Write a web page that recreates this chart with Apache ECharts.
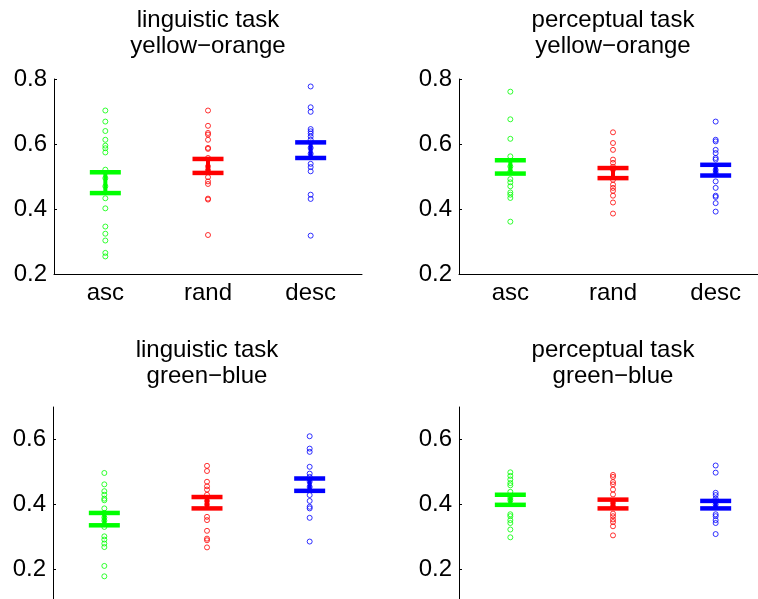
<!DOCTYPE html>
<html>
<head>
<meta charset="utf-8">
<script src="https://cdn.jsdelivr.net/npm/echarts@6/dist/echarts.min.js"></script>
<style>
  html, body { margin: 0; padding: 0; background: #fff; }
  #chart { width: 758px; height: 599px; }
</style>
</head>
<body>
<div id="chart"></div>
<script>
const categories = ['asc', 'rand', 'desc'];
const groupColors = ['#00ff00', '#ff0000', '#0000ff'];
const FONT = '"Liberation Sans", Arial, Helvetica, sans-serif';

// linguistic task, yellow-orange
const lingYoAsc = [0.703, 0.669, 0.640, 0.613, 0.595, 0.587, 0.574, 0.521, 0.495, 0.470, 0.433, 0.402, 0.346, 0.324, 0.303, 0.265, 0.254];
const lingYoRand = [0.703, 0.656, 0.634, 0.629, 0.613, 0.588, 0.585, 0.557, 0.531, 0.520, 0.498, 0.485, 0.477, 0.432, 0.429, 0.320];
const lingYoDesc = [0.777, 0.713, 0.699, 0.646, 0.639, 0.632, 0.623, 0.613, 0.588, 0.570, 0.539, 0.529, 0.516, 0.444, 0.431, 0.318];
const lingYoLow = [0.449, 0.511, 0.557];
const lingYoHigh = [0.513, 0.554, 0.605];

// perceptual task, yellow-orange
const percYoAsc = [0.761, 0.676, 0.616, 0.562, 0.531, 0.515, 0.492, 0.482, 0.470, 0.451, 0.444, 0.434, 0.361];
const percYoRand = [0.636, 0.603, 0.582, 0.552, 0.542, 0.530, 0.521, 0.490, 0.475, 0.465, 0.456, 0.441, 0.420, 0.386];
const percYoDesc = [0.669, 0.613, 0.608, 0.582, 0.572, 0.557, 0.552, 0.520, 0.511, 0.485, 0.465, 0.441, 0.437, 0.418, 0.392];
const percYoLow = [0.509, 0.495, 0.503];
const percYoHigh = [0.550, 0.526, 0.536];

// linguistic task, green-blue
const lingGbAsc = [0.497, 0.462, 0.441, 0.430, 0.418, 0.413, 0.388, 0.374, 0.360, 0.350, 0.331, 0.302, 0.292, 0.280, 0.269, 0.211, 0.179];
const lingGbRand = [0.519, 0.503, 0.470, 0.456, 0.446, 0.430, 0.411, 0.400, 0.362, 0.352, 0.319, 0.295, 0.290, 0.268];
const lingGbDesc = [0.610, 0.572, 0.562, 0.516, 0.495, 0.485, 0.470, 0.454, 0.429, 0.411, 0.393, 0.388, 0.359, 0.286];
const lingGbLow = [0.336, 0.388, 0.442];
const lingGbHigh = [0.374, 0.423, 0.480];

// perceptual task, green-blue
const percGbAsc = [0.499, 0.488, 0.477, 0.466, 0.459, 0.439, 0.420, 0.413, 0.370, 0.364, 0.352, 0.343, 0.323, 0.299];
const percGbRand = [0.491, 0.485, 0.469, 0.462, 0.446, 0.431, 0.405, 0.395, 0.372, 0.364, 0.354, 0.346, 0.333, 0.305];
const percGbDesc = [0.520, 0.498, 0.436, 0.429, 0.418, 0.411, 0.400, 0.370, 0.364, 0.352, 0.343, 0.309];
const percGbLow = [0.399, 0.388, 0.388];
const percGbHigh = [0.430, 0.415, 0.411];

const topTicks = [0.2, 0.4, 0.6, 0.8];
const bottomTicks = [0.2, 0.4, 0.6];

const panels = [
  { title: 'linguistic task\nyellow\u2212orange', groups: [lingYoAsc, lingYoRand, lingYoDesc], low: lingYoLow, high: lingYoHigh,
    left: 54, top: 79, min: 0.2, max: 0.8, ticks: topTicks },
  { title: 'perceptual task\nyellow\u2212orange', groups: [percYoAsc, percYoRand, percYoDesc], low: percYoLow, high: percYoHigh,
    left: 459, top: 79, min: 0.2, max: 0.8, ticks: topTicks },
  { title: 'linguistic task\ngreen\u2212blue', groups: [lingGbAsc, lingGbRand, lingGbDesc], low: lingGbLow, high: lingGbHigh,
    left: 53, top: 407, min: 0.1, max: 0.7, ticks: bottomTicks },
  { title: 'perceptual task\ngreen\u2212blue', groups: [percGbAsc, percGbRand, percGbDesc], low: percGbLow, high: percGbHigh,
    left: 459, top: 407, min: 0.1, max: 0.7, ticks: bottomTicks }
];

const PLOT_W = 308;
const PLOT_H = 195;

function errorBarItem(params, api) {
  const idx = api.value(0);
  const lo = api.coord([idx, api.value(1)]);
  const hi = api.coord([idx, api.value(2)]);
  const c = groupColors[idx];
  const hw = 15.5;
  return {
    type: 'group',
    children: [
      { type: 'line', shape: { x1: lo[0], y1: lo[1], x2: hi[0], y2: hi[1] }, style: { stroke: c, lineWidth: 4 } },
      { type: 'line', shape: { x1: lo[0] - hw, y1: lo[1], x2: lo[0] + hw, y2: lo[1] }, style: { stroke: c, lineWidth: 4.5 } },
      { type: 'line', shape: { x1: hi[0] - hw, y1: hi[1], x2: hi[0] + hw, y2: hi[1] }, style: { stroke: c, lineWidth: 4.5 } }
    ]
  };
}

const grid = [], xAxis = [], yAxis = [], series = [], graphic = [];

panels.forEach((p, i) => {
  grid.push({ left: p.left, top: p.top, width: PLOT_W, height: PLOT_H, outerBoundsMode: 'none', containLabel: false });
  xAxis.push({
    type: 'category', gridIndex: i, data: categories, boundaryGap: true,
    axisLine: { lineStyle: { color: '#000', width: 1 } },
    axisTick: { alignWithLabel: true, inside: true, length: 3, lineStyle: { color: '#000' } },
    axisLabel: { color: '#000', fontSize: 24, fontFamily: FONT, margin: 7 },
    splitLine: { show: false }
  });
  yAxis.push({
    type: 'value', gridIndex: i, min: p.min, max: p.max, interval: 0.1,
    axisLine: { show: true, lineStyle: { color: '#000', width: 1 } },
    axisTick: { show: true, inside: true, length: 3, customValues: p.ticks, lineStyle: { color: '#000' } },
    axisLabel: { color: '#000', fontSize: 24, fontFamily: FONT, margin: 7, customValues: p.ticks,
      formatter: v => v.toFixed(1) },
    splitLine: { show: false }
  });
  p.groups.forEach((vals, g) => {
    series.push({
      type: 'scatter', xAxisIndex: i, yAxisIndex: i,
      symbol: 'circle', symbolSize: 5,
      itemStyle: { color: 'rgba(255,255,255,0)', borderColor: groupColors[g], borderWidth: 1 },
      emphasis: { disabled: true },
      data: vals.map(v => [g, v]),
      z: 2
    });
  });
  series.push({
    type: 'custom', xAxisIndex: i, yAxisIndex: i,
    renderItem: errorBarItem,
    encode: { x: 0, y: [1, 2] },
    data: p.low.map((lo, g) => [g, lo, p.high[g]]),
    z: 3
  });
  graphic.push({
    type: 'text',
    x: p.left + PLOT_W / 2,
    y: p.top < 200 ? 7 : 337,
    style: {
      text: p.title, fill: '#000', fontSize: 24, fontFamily: FONT,
      lineHeight: 26, align: 'center', verticalAlign: 'top'
    }
  });
});

const chart = echarts.init(document.getElementById('chart'));
chart.setOption({
  animation: false,
  backgroundColor: '#fff',
  grid, xAxis, yAxis, series, graphic
});
</script>
</body>
</html>
